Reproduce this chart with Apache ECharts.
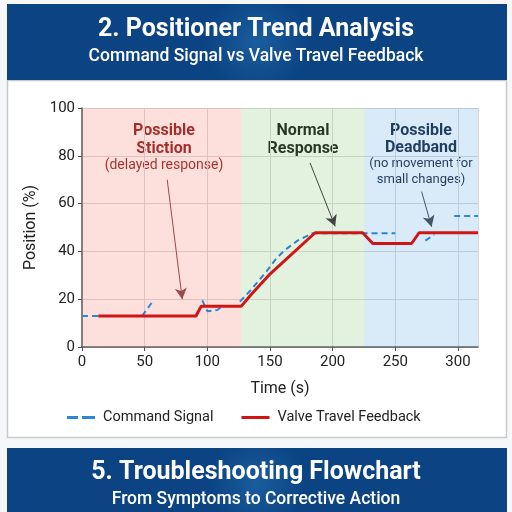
<!DOCTYPE html>
<html><head><meta charset="utf-8">
<script src="https://cdn.jsdelivr.net/npm/echarts@6/dist/echarts.min.js"></script>
<style>html,body{margin:0;padding:0;background:#f6f7f8;}#c{width:512px;height:512px;}</style>
</head><body><div id="c"></div>
<script>
// ---- data ----
const xTicks = [0, 50, 100, 150, 200, 250, 300];
const yTicks = [0, 20, 40, 60, 80, 100];
const commandSignal = [
  [0,13],[13,13],[13,'-'],
  [48,13],[57,19.5],[57,'-'],
  [96,19.5],[100,15],[108,15.5],[113,17.5],[113,'-'],
  [126,19],[135,24],[147,31.5],[155,37],[162,40.6],[172,44.5],[184,47.6],[250,47.6],[250,'-'],
  [274,44.5],[281,47],[281,'-'],
  [297,54.8],[316,54.8]
];
const valveFeedback = [
  [13,13],[91,13],[95,17],[127,17],[135,22],[150,30.5],[186,47.8],
  [224,47.8],[232,43.3],[263,43.3],[269,47.8],[316,47.8]
];
const zones = [
  {name:'stiction', from:0, to:127, color:'rgba(245,120,110,0.24)'},
  {name:'normal', from:127, to:225, color:'rgba(120,195,100,0.21)'},
  {name:'deadband', from:225, to:316, color:'rgba(80,160,225,0.22)'}
];
const arrows = [
  {from:[68,70], to:[80,20], color:'#9a4a4a'},
  {from:[182,77], to:[202,50.5], color:'#444'},
  {from:[271,65], to:[279,50.3], color:'#445566'}
];

const chart = echarts.init(document.getElementById('c'));
const FONT = 'Roboto, "Liberation Sans", sans-serif';
const hdrGrad = {type:'radial', x:0.5, y:0.5, r:0.7, colorStops:[{offset:0,color:'#1a5d9d'},{offset:1,color:'#0b4383'}]};

chart.setOption({
  backgroundColor:'#f6f7f8',
  textStyle:{fontFamily:FONT},
  graphic:[
    {type:'rect', z:-10, shape:{x:7.5,y:80.5,width:499,height:357}, style:{fill:'#fff', stroke:'#c9c9c9', lineWidth:1.5}},
    {type:'rect', z:-5, shape:{x:7,y:4,width:500,height:76}, style:{fill:hdrGrad}},
    {type:'text', left:'center', top:17, style:{text:'2. Positioner Trend Analysis', fill:'#fff', font:'bold 25px '+FONT}},
    {type:'text', left:'center', top:48, style:{text:'Command Signal vs Valve Travel Feedback', fill:'#fff', font:'500 17.5px '+FONT}},
    {type:'rect', z:-5, shape:{x:7,y:448,width:500,height:70}, style:{fill:hdrGrad}},
    {type:'text', left:'center', top:460, style:{text:'5. Troubleshooting Flowchart', fill:'#fff', font:'bold 25px '+FONT}},
    {type:'text', left:'center', top:491, style:{text:'From Symptoms to Corrective Action', fill:'#fff', font:'500 17.5px '+FONT}},
    {type:'text', x:164, y:122, style:{text:'Possible\nStiction', fill:'#8b1414', font:'bold 16px '+FONT, align:'center', lineHeight:18}},
    {type:'text', x:164, y:158, style:{text:'(delayed response)', fill:'#8b1a1a', font:'14px '+FONT, align:'center'}},
    {type:'text', x:303, y:122, style:{text:'Normal\nResponse', fill:'#111', font:'bold 16px '+FONT, align:'center', lineHeight:18}},
    {type:'text', x:421, y:122, style:{text:'Possible\nDeadband', fill:'#13223d', font:'bold 16px '+FONT, align:'center', lineHeight:17}},
    {type:'text', x:421, y:156, style:{text:'(no movement for\nsmall changes)', fill:'#13223d', font:'13px '+FONT, align:'center', lineHeight:16}}
  ],
  grid:{left:82, right:34, top:108, bottom:165},
  legend:{
    top:405, left:62, itemWidth:28, itemHeight:3, itemGap:28,
    textStyle:{fontSize:14.5, color:'#222', fontFamily:FONT, padding:[0,0,0,3]},
    data:[
      {name:'Command Signal', icon:'path://M0,0H11V3H0Z M15,0H28V3H15Z'},
      {name:'Valve Travel Feedback', icon:'path://M0,0H28V3H0Z'}
    ]
  },
  xAxis:{
    type:'value', min:0, max:316, interval:50,
    name:'Time (s)', nameLocation:'middle', nameGap:34,
    nameTextStyle:{fontSize:16, color:'#222'},
    axisLine:{lineStyle:{color:'#555', width:1.5}},
    axisTick:{show:true, length:4, lineStyle:{color:'#555'}},
    axisLabel:{fontSize:15, color:'#222', showMaxLabel:false, margin:8,
      formatter:v=> xTicks.includes(v) ? String(v) : ''},
    splitLine:{show:true, lineStyle:{color:'#d9d9d9'}}
  },
  yAxis:{
    type:'value', min:0, max:100, interval:20,
    name:'Position (%)', nameLocation:'middle', nameGap:37,
    nameTextStyle:{fontSize:16, color:'#222'},
    axisLine:{show:true, lineStyle:{color:'#555', width:1.5}},
    axisTick:{show:true, length:4, lineStyle:{color:'#555'}},
    axisLabel:{fontSize:15, color:'#222', margin:7,
      formatter:v=> yTicks.includes(v) ? String(v) : ''},
    splitLine:{show:true, lineStyle:{color:'#d9d9d9'}}
  },
  series:[
    {
      name:'Command Signal', type:'line', data:commandSignal, symbol:'none',
      connectNulls:false, z:3,
      lineStyle:{color:'#2b86d4', width:2, type:[6,4]},
      itemStyle:{color:'#2b86d4'}
    },
    {
      name:'Valve Travel Feedback', type:'line', data:valveFeedback, symbol:'none', z:4,
      lineStyle:{color:'#d01515', width:3},
      itemStyle:{color:'#d01515'},
      markArea:{silent:true, z:1,
        data: zones.map(zn=>[{xAxis:zn.from, itemStyle:{color:zn.color}},{xAxis:zn.to}])
      }
    },
    {
      name:'arrows', type:'line', data:[], z:5,
      markLine:{silent:true, symbol:['none','arrow'], symbolSize:[9,11],
        label:{show:false},
        data: arrows.map(a=>[{coord:a.from, lineStyle:{color:a.color, width:1, type:'solid'}, itemStyle:{color:'#111'}},{coord:a.to}])
      }
    }
  ]
});
</script></body></html>
